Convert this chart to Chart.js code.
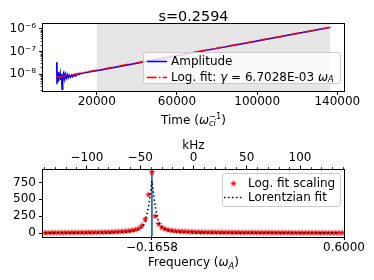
<!DOCTYPE html>
<html>
<head>
<meta charset="utf-8">
<script src="https://cdn.jsdelivr.net/npm/chart.js@4.4.0/dist/chart.umd.min.js"></script>
<style>
  html, body { margin: 0; padding: 0; background: #fff; }
  #wrap { position: relative; width: 374px; height: 280px; }
  canvas { position: absolute; left: 0; }
  #growth { top: 0; }
  #spectrum { top: 130px; }
</style>
</head>
<body>
<div id="wrap">
  <canvas id="growth" width="374" height="130"></canvas>
  <canvas id="spectrum" width="374" height="150"></canvas>
</div>
<script>
const FONT = "'DejaVu Sans', sans-serif";

// ---- growth panel data ----
const growthTitle = 's=0.2594';
const timeVals = [0, 150, 300, 500, 700, 900, 1200, 1500, 1800, 2100, 2400, 2700,
    3000, 3400, 3800, 4200, 4700, 5200, 5700, 6200, 6800, 7400, 8000, 8700, 9400, 10000,
    11000, 12000, 13000, 14000, 16000, 20000,
    30000, 40000, 50000, 60000, 70000, 80000, 90000, 100000, 110000, 120000, 130000, 136500];
const ampVals = [3.3e-8, 3.5e-9, 1.3e-8, 5.0e-9, 1.2e-8, 4.6e-9, 1.1e-8, 6.0e-9, 1.0e-8, 5.5e-9, 9.5e-9, 2.1e-9,
    8.0e-9, 1.05e-8, 6.0e-9, 1.0e-8, 6.4e-9, 9.5e-9, 6.8e-9, 9.2e-9, 7.2e-9, 9.0e-9, 7.6e-9, 9.0e-9, 8.2e-9, 9.2e-9,
    9.4e-9, 1.04e-8, 1.08e-8, 1.15e-8, 1.22e-8, 1.4e-8,
    2.05e-8, 3.0e-8, 4.37e-8, 6.4e-8, 9.3e-8, 1.36e-7, 1.98e-7, 2.89e-7, 4.2e-7, 6.15e-7, 8.97e-7, 1.15e-6];
const fitTime = [0, 136500];
const fitVals = [7.0e-9, 1.15e-6];
const fitWindow = [20000, 136500];
const timeTicks = [20000, 60000, 100000, 140000];
const ampDecades = [1e-8, 1e-7, 1e-6];
const ampDecadeLabels = ['10\u207B\u2078', '10\u207B\u2077', '10\u207B\u2076'];
const ampMinor = [2e-9, 3e-9, 4e-9, 5e-9, 6e-9, 7e-9, 8e-9, 9e-9, 2e-8, 3e-8, 4e-8, 5e-8, 6e-8, 7e-8, 8e-8, 9e-8,
    2e-7, 3e-7, 4e-7, 5e-7, 6e-7, 7e-7, 8e-7, 9e-7];
const gammaText = '6.7028E-03';

// ---- spectrum panel data ----
const freqVals = [-0.5914, -0.5781, -0.5648, -0.5515, -0.5382, -0.5249, -0.5116, -0.4983, -0.4850, -0.4717,
    -0.4584, -0.4451, -0.4318, -0.4185, -0.4052, -0.3919, -0.3786, -0.3653, -0.3520, -0.3387, -0.3254, -0.3121,
    -0.2988, -0.2855, -0.2722, -0.2589, -0.2456, -0.2323, -0.2190, -0.2057, -0.1924, -0.1791, -0.1658, -0.1525,
    -0.1392, -0.1259, -0.1126, -0.0993, -0.0860, -0.0727, -0.0594, -0.0461, -0.0328, -0.0195, -0.0062, 0.0071,
    0.0204, 0.0337, 0.0470, 0.0603, 0.0736, 0.0869, 0.1002, 0.1135, 0.1268, 0.1401, 0.1534, 0.1667, 0.1800,
    0.1933, 0.2066, 0.2199, 0.2332, 0.2465, 0.2598, 0.2731, 0.2864, 0.2997, 0.3130, 0.3263, 0.3396, 0.3529,
    0.3662, 0.3795, 0.3928, 0.4061, 0.4194, 0.4327, 0.4460, 0.4593, 0.4726, 0.4859, 0.4992, 0.5125, 0.5258,
    0.5391, 0.5524, 0.5657, 0.5790, 0.5923];
const scalingVals = [6, 6, 7, 7, 7, 7, 8, 8, 8, 9, 9, 10, 10, 11, 11, 12, 13, 14, 15, 16, 18, 20, 22, 25, 29,
    34, 41, 51, 68, 110, 205, 570, 900, 250, 135, 82, 60, 46, 38, 32, 28, 25, 23, 21, 19, 18, 17, 16, 15, 14,
    13, 13, 12, 12, 11, 11, 10, 10, 10, 9, 9, 9, 9, 8, 8, 8, 8, 8, 7, 7, 7, 7, 7, 7, 6, 6, 6, 6, 6, 6, 6, 6,
    5, 5, 5, 5, 5, 5, 5, 5];
const lorentzVals = [1, 1, 1, 1, 1, 1, 1, 2, 2, 2, 2, 2, 3, 3, 3, 4, 4, 5, 5, 6, 7, 9, 11, 13, 16, 20, 26,
    36, 52, 85, 160, 390, 770, 390, 160, 85, 52, 36, 26, 20, 16, 13, 11, 9, 7, 6, 5, 5, 4, 4, 3, 3, 3,
    2, 2, 2, 2, 2, 2, 2, 2, 2, 2, 1, 1, 1, 1, 1, 1, 1, 1, 1, 1, 1, 1, 1, 1, 1, 1, 1, 1, 1, 1, 1, 1, 1, 1, 1, 1];
const peakFreq = -0.1658;
const freqTicks = [-0.1658, 0.6];
const freqTickLabels = ['\u22120.1658', '0.6000'];
const powerTicks = [0, 250, 500, 750];
const khzTicks = [-100, -50, 0, 50, 100];
const khzTickLabels = ['\u2212100', '\u221250', '0', '50', '100'];
const khzMinor = [-140, -130, -120, -110, -90, -80, -70, -60, -40, -30, -20, -10,
    10, 20, 30, 40, 60, 70, 80, 90, 110, 120, 130, 140];

// ---- helpers ----
function fontStr(p) {
    return (p.italic ? 'italic ' : '') + (p.size || 12) + 'px ' + FONT;
}

function richText(ctx, parts, x, y, align) {
    let cursor = 0, lastStart = 0;
    const laid = [];
    for (const p of parts) {
        ctx.font = fontStr(p);
        const w = ctx.measureText(p.text).width;
        const start = p.stack ? lastStart : cursor;
        laid.push({ p, start });
        lastStart = start;
        cursor = Math.max(cursor, start + w);
    }
    const x0 = align === 'center' ? x - cursor / 2 : x;
    ctx.fillStyle = '#000';
    for (const { p, start } of laid) {
        ctx.font = fontStr(p);
        ctx.fillText(p.text, x0 + start, y + (p.dy || 0));
    }
}

function legendBox(ctx, x, y, w, h) {
    ctx.save();
    ctx.beginPath();
    ctx.roundRect(x + 0.5, y + 0.5, w, h, 2.5);
    ctx.fillStyle = 'rgba(255,255,255,0.8)';
    ctx.fill();
    ctx.strokeStyle = '#cccccc';
    ctx.lineWidth = 1;
    ctx.stroke();
    ctx.restore();
}

function minorTicks(ctx, scale, values, len) {
    ctx.save();
    ctx.strokeStyle = '#000';
    ctx.lineWidth = 0.8;
    ctx.beginPath();
    for (const v of values) {
        const p = Math.round(scale.getPixelForValue(v)) + 0.5;
        if (scale.isHorizontal()) {
            if (scale.position === 'top') {
                ctx.moveTo(p, scale.bottom); ctx.lineTo(p, scale.bottom - len);
            } else {
                ctx.moveTo(p, scale.top); ctx.lineTo(p, scale.top + len);
            }
        } else {
            ctx.moveTo(scale.right, p); ctx.lineTo(scale.right - len, p);
        }
    }
    ctx.stroke();
    ctx.restore();
}

function frame(chart) {
    const { ctx, chartArea: a } = chart;
    ctx.save();
    ctx.strokeStyle = '#000';
    ctx.lineWidth = 1;
    ctx.strokeRect(Math.round(a.left) - 0.5, Math.round(a.top) - 0.5,
        Math.round(a.right - a.left) + 1, Math.round(a.bottom - a.top) + 1);
    ctx.restore();
}

function starImage(r, color) {
    const c = document.createElement('canvas');
    const s = Math.ceil(r * 2) + 2;
    c.width = s; c.height = s;
    const g = c.getContext('2d');
    g.translate(s / 2, s / 2);
    g.beginPath();
    for (let i = 0; i < 10; i++) {
        const rad = i % 2 === 0 ? r : r * 0.4;
        const a = -Math.PI / 2 + i * Math.PI / 5;
        g.lineTo(rad * Math.cos(a), rad * Math.sin(a));
    }
    g.closePath();
    g.fillStyle = color;
    g.fill();
    return c;
}

const tickFont = { family: FONT, size: 12, lineHeight: 1 };
const baseGrid = { display: true, drawOnChartArea: false, drawTicks: true, tickLength: 4, tickColor: '#000', tickWidth: 1 };

// ---- growth chart ----
const growthDeco = {
    id: 'growthDeco',
    beforeDatasetsDraw(chart) {
        const { ctx, chartArea: a, scales: { x } } = chart;
        const x0 = x.getPixelForValue(fitWindow[0]);
        const x1 = x.getPixelForValue(fitWindow[1]);
        ctx.save();
        ctx.fillStyle = '#e6e6e6';
        ctx.fillRect(x0, a.top, x1 - x0, a.bottom - a.top);
        ctx.restore();
    },
    afterDraw(chart) {
        const { ctx } = chart;
        frame(chart);
        minorTicks(ctx, chart.scales.y, ampMinor, 2.4);
        ctx.save();
        ctx.textBaseline = 'alphabetic';
        richText(ctx, [{ text: growthTitle, size: 14.4 }], 193.5, 20.5, 'center');
        richText(ctx, [
            { text: 'Time (' },
            { text: 'ω', italic: true },
            { text: 'ci', size: 8.4, italic: true, dy: 2.5 },
            { text: '\u22121', size: 8.4, dy: -5, stack: true },
            { text: ')' }
        ], 193.5, 123.5, 'center');

        // legend
        legendBox(ctx, 143, 52, 197, 31);
        ctx.lineWidth = 1.5;
        ctx.strokeStyle = '#0000ff';
        ctx.beginPath(); ctx.moveTo(147, 61.5); ctx.lineTo(167, 61.5); ctx.stroke();
        ctx.strokeStyle = '#ff0000';
        ctx.setLineDash([9.6, 2.4, 1.5, 2.4]);
        ctx.beginPath(); ctx.moveTo(147, 77.5); ctx.lineTo(167, 77.5); ctx.stroke();
        ctx.setLineDash([]);
        ctx.textBaseline = 'middle';
        richText(ctx, [{ text: 'Amplitude' }], 171, 61.5, 'left');
        richText(ctx, [
            { text: 'Log. fit: ' },
            { text: 'γ', italic: true },
            { text: ' = ' },
            { text: gammaText + ' ' },
            { text: 'ω', italic: true },
            { text: 'A', size: 8.4, italic: true, dy: 2.5 }
        ], 171, 77.5, 'left');
        ctx.restore();
    }
};

new Chart(document.getElementById('growth'), {
    type: 'line',
    data: {
        datasets: [{
            label: 'Amplitude',
            data: timeVals.map((t, i) => ({ x: t, y: ampVals[i] })),
            borderColor: '#0000ff',
            borderWidth: 1.5,
            pointRadius: 0,
            order: 2
        }, {
            label: 'Log. fit',
            data: fitTime.map((t, i) => ({ x: t, y: fitVals[i] })),
            borderColor: '#ff0000',
            borderWidth: 1.5,
            borderDash: [9.6, 2.4, 1.5, 2.4],
            pointRadius: 0,
            order: 1
        }]
    },
    options: {
        responsive: false,
        animation: false,
        devicePixelRatio: 1,
        layout: { padding: { left: 0, right: 30, top: 24, bottom: 0 } },
        plugins: { legend: { display: false }, tooltip: { enabled: false }, title: { display: false } },
        scales: {
            x: {
                type: 'linear',
                min: -6825,
                max: 143325,
                bounds: 'data',
                afterBuildTicks: s => { s.ticks = timeTicks.map(v => ({ value: v })); },
                afterFit: s => { s.height = 39; },
                ticks: { autoSkip: false, maxRotation: 0, padding: 0.5, color: '#000', font: tickFont, callback: v => String(v) },
                grid: baseGrid,
                border: { display: false }
            },
            y: {
                type: 'logarithmic',
                min: 1.78e-9,
                max: 1.62e-6,
                afterBuildTicks: s => { s.ticks = ampDecades.map(v => ({ value: v })); },
                afterFit: s => { s.width = 43; },
                ticks: { autoSkip: false, padding: 3, color: '#000', font: tickFont, callback: (v, i) => ampDecadeLabels[i] },
                grid: baseGrid,
                border: { display: false }
            }
        }
    },
    plugins: [growthDeco]
});

// ---- spectrum chart ----
const starMark = starImage(3.6, '#ff0000');

const spectrumDeco = {
    id: 'spectrumDeco',
    afterDraw(chart) {
        const { ctx } = chart;
        frame(chart);
        minorTicks(ctx, chart.scales.khz, khzMinor, 2.4);
        ctx.save();
        ctx.textBaseline = 'alphabetic';
        richText(ctx, [{ text: 'kHz' }], 193.5, 19, 'center');
        richText(ctx, [
            { text: 'Frequency (' },
            { text: 'ω', italic: true },
            { text: 'A', size: 8.4, italic: true, dy: 2.5 },
            { text: ')' }
        ], 193.5, 136, 'center');

        // legend
        legendBox(ctx, 222, 43, 118, 33);
        ctx.drawImage(starMark, 233.5 - starMark.width / 2, 53.5 - starMark.height / 2);
        ctx.strokeStyle = '#000';
        ctx.lineWidth = 1.5;
        ctx.setLineDash([1.5, 2.5]);
        ctx.beginPath(); ctx.moveTo(224, 67.5); ctx.lineTo(244, 67.5); ctx.stroke();
        ctx.setLineDash([]);
        ctx.textBaseline = 'middle';
        richText(ctx, [{ text: 'Log. fit scaling' }], 248, 53.5, 'left');
        richText(ctx, [{ text: 'Lorentzian fit' }], 248, 67.5, 'left');
        ctx.restore();
    }
};

new Chart(document.getElementById('spectrum'), {
    type: 'line',
    data: {
        datasets: [{
            label: 'peak',
            data: [{ x: peakFreq, y: -100 }, { x: peakFreq, y: 1100 }],
            borderColor: '#1f77b4',
            borderWidth: 1.8,
            pointRadius: 0,
            order: 3
        }, {
            label: 'Log. fit scaling',
            data: freqVals.map((f, i) => ({ x: f, y: scalingVals[i] })),
            showLine: false,
            pointStyle: starMark,
            pointRadius: 3,
            order: 2
        }, {
            label: 'Lorentzian fit',
            data: freqVals.map((f, i) => ({ x: f, y: lorentzVals[i] })),
            borderColor: '#000',
            borderWidth: 1.5,
            borderDash: [1.5, 2.5],
            pointRadius: 0,
            order: 1
        }]
    },
    options: {
        responsive: false,
        animation: false,
        devicePixelRatio: 1,
        layout: { padding: { left: 0, right: 30, top: 0, bottom: 0 } },
        plugins: { legend: { display: false }, tooltip: { enabled: false } },
        scales: {
            x: {
                type: 'linear',
                position: 'bottom',
                min: -0.6,
                max: 0.6,
                bounds: 'data',
                afterBuildTicks: s => { s.ticks = freqTicks.map(v => ({ value: v })); },
                afterFit: s => { s.height = 44; },
                ticks: { autoSkip: false, maxRotation: 0, padding: 1.5, color: '#000', font: tickFont, callback: (v, i) => freqTickLabels[i] },
                grid: baseGrid,
                border: { display: false }
            },
            khz: {
                axis: 'x',
                type: 'linear',
                position: 'top',
                min: -141.3,
                max: 141.3,
                bounds: 'data',
                afterBuildTicks: s => { s.ticks = khzTicks.map(v => ({ value: v })); },
                afterFit: s => { s.height = 39.5; },
                ticks: { autoSkip: false, maxRotation: 0, padding: 2, color: '#000', font: tickFont, callback: (v, i) => khzTickLabels[i] },
                grid: baseGrid,
                border: { display: false }
            },
            y: {
                type: 'linear',
                min: -43,
                max: 941,
                afterBuildTicks: s => { s.ticks = powerTicks.map(v => ({ value: v })); },
                afterFit: s => { s.width = 43; },
                ticks: { autoSkip: false, padding: 3, color: '#000', font: tickFont, callback: v => String(v) },
                grid: baseGrid,
                border: { display: false }
            }
        }
    },
    plugins: [spectrumDeco]
});
</script>
</body>
</html>
